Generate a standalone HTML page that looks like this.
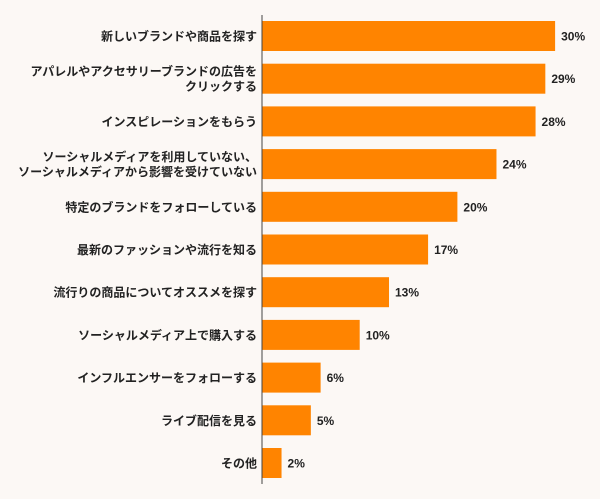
<!DOCTYPE html>
<html><head><meta charset="utf-8"><style>
body{margin:0;background:#fcf8f5;}
svg{display:block;font-family:"Liberation Sans","Noto Sans CJK JP",sans-serif;}
</style></head><body>
<svg id="chart" width="600" height="499"></svg>
<script>
const categories=[["新しいブランドや商品を探す"],["アパレルやアクセサリーブランドの広告を","クリックする"],["インスピレーションをもらう"],["ソーシャルメディアを利用していない、","ソーシャルメディアから影響を受けていない"],["特定のブランドをフォローしている"],["最新のファッションや流行を知る"],["流行りの商品についてオススメを探す"],["ソーシャルメディア上で購入する"],["インフルエンサーをフォローする"],["ライブ配信を見る"],["その他"]];
const values=[30,29,28,24,20,17,13,10,6,5,2];
const valueLabels=["30%","29%","28%","24%","20%","17%","13%","10%","6%","5%","2%"];
const svg=document.getElementById('chart');
const NS='http://www.w3.org/2000/svg';
const x0=262,pxPer=9.77,y0=21,step=42.7,bh=30;
const xs=v=>x0+v*pxPer;
const ys=i=>y0+i*step;
function mk(t,a){const e=document.createElementNS(NS,t);for(const k in a)e.setAttribute(k,a[k]);svg.appendChild(e);return e;}
values.forEach((v,i)=>{
  const r=mk('rect',{x:x0,y:ys(i),width:xs(v)-x0,height:bh,fill:'#ff8400'});
  
  
  const t=mk('text',{x:xs(v)+6,y:ys(i)+bh/2+4.5,'font-size':12,'font-weight':'bold',fill:'#222'});
  t.textContent=valueLabels[i];
  
  
  const lines=categories[i];
  lines.forEach((s,j)=>{
    const l=mk('text',{x:257,y:ys(i)+bh/2+4.5+(j-(lines.length-1)/2)*15,'font-size':12,'font-weight':'bold','text-anchor':'end',fill:'#222'});
    l.textContent=s;
    
    
  });
});
const ax=mk('line',{x1:x0,y1:15,x2:x0,y2:484,stroke:'#444','stroke-width':1});


</script>
</body></html>
